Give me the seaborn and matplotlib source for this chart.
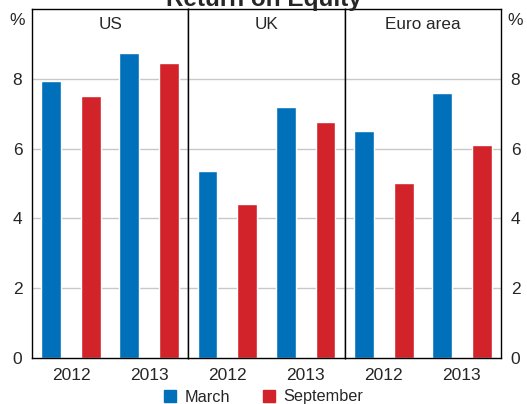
import matplotlib
matplotlib.use("Agg")
import matplotlib.pyplot as plt
import matplotlib.patches as mpatches
import pandas as pd
import seaborn as sns

# data
regions = ["US", "UK", "Euro area"]
years = ["2012", "2013"]
march = {"US": [7.95, 8.75], "UK": [5.35, 7.2], "Euro area": [6.5, 7.6]}
september = {"US": [7.5, 8.45], "UK": [4.4, 6.75], "Euro area": [5.0, 6.1]}
yticks = [0, 2, 4, 6, 8]

blue = "#0070BB"
red = "#D2232A"

rows = []
for r in regions:
    for i, y in enumerate(years):
        rows.append({"region": r, "year": y, "month": "March", "value": march[r][i]})
        rows.append({"region": r, "year": y, "month": "September", "value": september[r][i]})
df = pd.DataFrame(rows)

sns.set_style("white")
plt.rcParams["font.family"] = ["Liberation Sans", "DejaVu Sans"]

fig, axes = plt.subplots(1, 3, figsize=(5.27, 4.04), dpi=100, sharey=True)
fig.subplots_adjust(left=0.0607, right=0.9507, bottom=0.1139, top=0.9777, wspace=0)

for k, (ax, r) in enumerate(zip(axes, regions)):
    sub = df[df.region == r]
    sns.barplot(data=sub, x="year", y="value", hue="month", order=years,
                hue_order=["March", "September"], palette=[blue, red],
                width=1.02, gap=0.5, saturation=1, legend=False, ax=ax, zorder=2)
    ax.set_xlim(-0.5, 1.5)
    ax.set_ylim(0, 10)
    ax.set_yticks(yticks)
    ax.set_xlabel("")
    ax.set_ylabel("")
    for v in [2, 4, 6, 8]:
        ax.axhline(v, color="#C8C8C8", lw=1, zorder=1)
    for s in ax.spines.values():
        s.set_visible(True)
        s.set_color("black")
        s.set_linewidth(1)
    ax.set_xticks([0, 1])
    ax.set_xticks([0.5], minor=True)
    ax.tick_params(axis="x", which="major", length=0, labelsize=12.5, pad=7)
    ax.tick_params(axis="x", which="minor", direction="in", length=5, width=0.8, color="#555555")
    ax.tick_params(axis="y", length=0, labelsize=12.5, pad=7,
                   labelleft=(k == 0), labelright=(k == 2))
    ax.text(0.5, 0.955, r, transform=ax.transAxes, ha="center", va="center", fontsize=12.3)

fig.text(0.032, 0.95, "%", ha="center", va="center", fontsize=12.5)
fig.text(0.977, 0.95, "%", ha="center", va="center", fontsize=12.5)
fig.text(0.5, 1 - 6 / 404, "Return on Equity", ha="center", va="baseline",
         fontsize=17.5, fontweight="bold")

handles = [mpatches.Patch(color=blue, label="March"),
           mpatches.Patch(color=red, label="September")]
fig.legend(handles=handles, loc="center", bbox_to_anchor=(0.5, 1 - 397 / 404),
           ncol=2, frameon=False, fontsize=11.7, handlelength=0.75, handleheight=0.75,
           columnspacing=2.0, handletextpad=0.5, borderpad=0)

fig.savefig("out.png", dpi=100)
